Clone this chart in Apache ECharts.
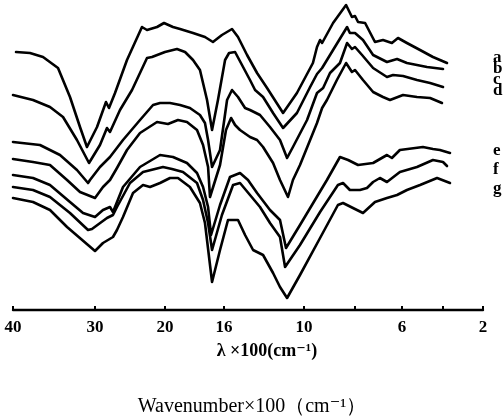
<!DOCTYPE html>
<html>
<head>
<meta charset="utf-8">
<script src="https://cdn.jsdelivr.net/npm/echarts@6/dist/echarts.min.js"></script>
<style>html,body{margin:0;padding:0;background:#fff}#c{width:504px;height:417px}</style>
</head>
<body>
<div id="c"></div>
<script>
// Axis scale (the original spectrum axis is piecewise linear in wavenumber)
const tickWavenumbers = [40, 30, 20, 16, 10, 8, 6, 4, 2];
const tickLabels = ['40', '30', '20', '16', '10', '', '6', '', '2'];
const scaleStops = [0, 82, 152, 211, 291, 342, 389, 430, 470];

const curveNames = ['a', 'b', 'c', 'd', 'e', 'f', 'g'];

// [wavenumber x100 cm^-1, relative signal]
const curveA = [[39.63,258],[37.93,257],[36.34,253],[34.51,242],[33.05,213],[31.83,183],[30.98,163],[29.71,183],[28.43,208],[28.0,202],[27.14,217],[25.43,250],[23.29,283],[22.57,280],[21.14,283],[20.14,287],[19.46,283],[18.98,281],[18.10,277],[17.29,273],[16.75,268],[16.14,275],[15.40,281],[14.95,273],[14.27,255],[13.52,237],[12.77,222],[11.57,197],[10.53,217],[9.65,247],[9.49,263],[9.37,270],[9.29,267],[8.86,287],[8.35,305],[8.12,293],[8.0,294],[7.87,288],[7.57,287],[7.15,268],[6.81,270],[6.43,267],[6.17,272],[5.76,267],[5.12,260],[4.49,253],[3.80,247]];
const curveB = [[40.0,215],[37.56,210],[35.49,203],[33.9,193],[32.2,170],[30.73,147],[29.29,165],[28.29,182],[27.86,178],[26.43,200],[24.71,220],[22.57,252],[21.86,253],[20.0,258],[19.19,261],[18.64,258],[18.10,250],[17.63,240],[17.15,210],[16.81,180],[16.41,210],[15.92,250],[15.62,257],[15.17,258],[14.57,243],[14.05,230],[13.67,220],[13.07,213],[12.32,197],[11.57,182],[10.53,197],[9.76,223],[9.49,236],[9.29,242],[8.86,260],[8.31,283],[8.20,277],[8.0,277],[7.66,270],[7.23,255],[6.64,248],[6.21,251],[5.76,247],[4.78,243],[4.0,241]];
const curveC = [[40.0,168],[36.71,165],[34.27,155],[32.2,140],[30.85,127],[30.61,130],[29.29,143],[27.86,153],[26.0,170],[23.57,190],[21.71,205],[20.71,207],[19.66,207],[18.98,205],[18.31,202],[17.63,195],[17.29,187],[17.08,170],[16.81,143],[16.27,160],[15.77,210],[15.40,220],[14.95,213],[14.42,202],[14.05,200],[13.30,195],[12.55,183],[11.80,170],[11.27,152],[10.83,163],[9.88,190],[9.49,217],[9.25,222],[8.98,237],[8.59,247],[8.31,267],[8.12,261],[8.0,263],[7.70,255],[7.23,242],[6.64,233],[6.38,235],[5.95,234],[5.27,230],[4.63,227],[4.0,223]];
const curveD = [[40.0,151],[37.56,148],[35.49,145],[33.41,130],[31.83,118],[30.0,112],[28.86,123],[27.86,130],[26.86,142],[25.43,160],[23.57,177],[21.14,188],[19.80,186],[19.12,190],[18.51,188],[17.83,180],[17.42,165],[17.08,143],[16.95,113],[16.27,145],[15.85,180],[15.47,192],[15.17,185],[14.80,180],[14.05,173],[13.52,170],[13.07,163],[12.32,147],[11.80,130],[11.20,113],[10.83,130],[10.30,145],[9.76,170],[9.49,187],[9.29,202],[9.10,210],[8.71,230],[8.35,247],[8.12,238],[8.0,240],[7.66,230],[7.23,218],[6.81,213],[6.51,210],[5.95,215],[5.27,213],[4.63,212],[4.05,207]];
const curveE = [[40.0,135],[37.56,132],[35.49,125],[33.05,108],[31.46,97],[30.0,93],[28.86,100],[27.86,103],[27.43,98],[26.0,123],[23.57,143],[20.71,155],[19.46,153],[18.51,147],[17.83,137],[17.42,123],[17.08,103],[16.88,75],[16.27,105],[15.55,133],[14.80,137],[14.20,130],[13.52,117],[12.55,100],[11.80,90],[11.35,62],[10.30,85],[9.57,110],[9.10,130],[8.59,153],[8.27,150],[7.87,145],[7.23,147],[6.64,155],[6.43,152],[6.09,160],[4.98,163],[4.49,161],[4.15,160],[3.65,157]];
const curveF = [[40.0,123],[37.56,120],[35.49,113],[33.05,97],[30.85,80],[30.37,81],[28.29,92],[27.43,95],[26.86,103],[25.0,127],[23.14,138],[20.29,143],[19.53,141],[18.78,138],[17.83,127],[17.42,110],[17.08,87],[16.81,60],[16.14,95],[15.32,125],[14.80,127],[14.05,115],[13.30,103],[12.55,87],[11.80,73],[11.42,43],[10.30,65],[9.37,98],[8.67,125],[8.47,127],[8.20,120],[7.79,120],[7.49,122],[7.23,128],[6.94,132],[6.64,128],[6.09,138],[5.27,143],[4.49,150],[4.0,148],[3.80,144]];
const curveG = [[40.0,112],[37.56,108],[35.49,100],[33.41,83],[30.0,59],[28.86,67],[27.43,73],[26.86,80],[26.0,93],[24.57,117],[23.14,125],[22.14,123],[20.71,127],[19.66,132],[19.12,132],[18.31,123],[17.63,107],[17.29,87],[16.81,28],[16.27,60],[15.70,90],[14.95,90],[14.42,75],[13.82,60],[13.07,55],[12.32,37],[11.80,23],[11.27,12],[10.30,35],[9.37,72],[8.67,105],[8.47,107],[8.08,102],[7.66,97],[7.15,108],[6.64,112],[6.21,115],[5.76,120],[5.12,125],[4.29,132],[3.65,127]];

const curves = [curveA, curveB, curveC, curveD, curveE, curveF, curveG];

function wnToPos(w) {
  for (let i = 0; i < tickWavenumbers.length - 1; i++) {
    const w0 = tickWavenumbers[i], w1 = tickWavenumbers[i + 1];
    if (w <= w0 && w >= w1) {
      return scaleStops[i] + (w0 - w) / (w0 - w1) * (scaleStops[i + 1] - scaleStops[i]);
    }
  }
  return w > tickWavenumbers[0] ? scaleStops[0] : scaleStops[scaleStops.length - 1];
}

const tickPos = tickWavenumbers.map(wnToPos);
const labelPos = tickPos.filter((p, i) => tickLabels[i] !== '');
function posLabel(v) {
  let best = 0, d = Infinity;
  tickPos.forEach((p, i) => { if (Math.abs(p - v) < d) { d = Math.abs(p - v); best = i; } });
  return tickLabels[best];
}

const serif = '"Liberation Serif", "DejaVu Serif", serif';
const labelY = [58, 69, 80, 91, 151, 170, 189];

const chart = echarts.init(document.getElementById('c'), null, { renderer: 'canvas' });
chart.setOption({
  animation: false,
  backgroundColor: '#fff',
  title: {
    text: 'Wavenumber×100（cm⁻¹）',
    left: 'center',
    top: 392,
    textStyle: { fontFamily: serif, fontSize: 20, fontWeight: 'normal', color: '#000' }
  },
  grid: { left: 13, right: 21, top: 0, bottom: 107, containLabel: false },
  xAxis: {
    type: 'value',
    min: 0,
    max: 470,
    name: 'λ ×100(cm⁻¹)',
    nameLocation: 'middle',
    nameGap: 32,
    nameTextStyle: { fontFamily: serif, fontSize: 18, fontWeight: 'bold', color: '#000', padding: [0, 0, 0, 38] },
    axisLine: { lineStyle: { color: '#000', width: 2.4 } },
    axisTick: { customValues: tickPos, inside: true, length: 4, lineStyle: { color: '#000', width: 2 } },
    axisLabel: {
      customValues: labelPos,
      formatter: posLabel,
      fontFamily: serif, fontSize: 17, fontWeight: 'bold', color: '#000', margin: 9
    },
    splitLine: { show: false }
  },
  yAxis: { type: 'value', min: 0, max: 310, show: false },
  graphic: curveNames.map((n, i) => ({
    type: 'text',
    left: 493,
    top: labelY[i] - 9,
    style: { text: n, font: 'bold 17px ' + serif, fill: '#000' }
  })),
  series: curves.map((c, i) => ({
    name: curveNames[i],
    type: 'line',
    data: c.map(([w, v]) => [wnToPos(w), v]),
    showSymbol: false,
    clip: false,
    lineStyle: { color: '#000', width: 2.6, join: 'round', cap: 'round' }
  }))
});
</script>
</body>
</html>
